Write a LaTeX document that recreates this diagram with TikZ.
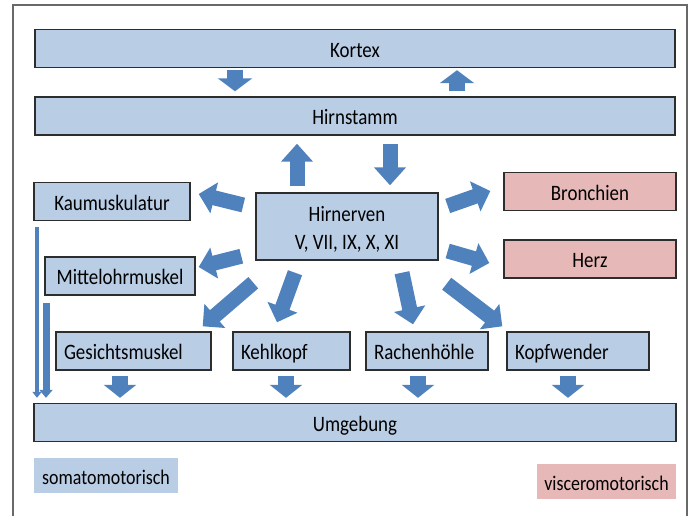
\documentclass[tikz,border=0pt]{standalone}
\usepackage{fontspec}
\setmainfont{Carlito}[FakeStretch=0.86]
\usetikzlibrary{arrows.meta,positioning,calc}
\definecolor{somaBlue}{RGB}{185,205,229}
\definecolor{visceroRed}{RGB}{230,185,184}
\definecolor{arrowBlue}{RGB}{79,129,189}
\definecolor{boxLine}{RGB}{45,45,45}
\definecolor{frameGray}{RGB}{105,105,105}

\begin{document}
\begin{tikzpicture}[x=0.5pt, y=-0.5pt, every node/.style={font=\fontsize{11}{14}\selectfont},
    base/.style={draw=boxLine, line width=0.7pt, fill=somaBlue, inner sep=0pt},
    box/.style={base, minimum height=19pt, text height=8.6pt, text depth=0pt},
    vbox/.style={box, fill=visceroRed},
    leftbox/.style={box, align=left, inner xsep=4pt, text width=#1},
    legend/.style={draw=none, font=\fontsize{10.4}{12}\selectfont, minimum height=17.5pt},
    fat/.style={arrowBlue, line width=7.5pt, -{Triangle[length=8pt, width=15.5pt]}},
    smallarrow/.style={arrowBlue, line width=8pt, -{Triangle[length=6.5pt, width=17pt]}}]
    \useasboundingbox (0,0) rectangle (691,516);
    % frame, open at the bottom
    \draw[frameGray, line width=0.8pt] (13,516) -- (13,5) -- (687,5) -- (687,516);

    \node[box, minimum width=320pt] (kortex) at (355,48.5) {Kortex};
    \node[box, minimum width=320pt] (hirnstamm) at (355,116) {Hirnstamm};
    \node[base, minimum width=91pt, minimum height=33.5pt, align=center] (nerven) at (347,226.5) {\rule{0pt}{10pt}Hirnerven\\V, VII, IX, X, XI};
    \node[box, minimum width=78pt] (kau) at (112,201.5) {Kaumuskulatur};
    \node[box, minimum width=75pt] (mittel) at (120,276) {Mittelohrmuskel};
    \node[vbox, minimum width=86pt] (bronchien) at (590,191.5) {Bronchien};
    \node[vbox, minimum width=86pt] (herz) at (590,259) {Herz};
    \node[leftbox=69.5pt] (gesicht) at (133.5,351) {Gesichtsmuskel};
    \node[leftbox=50.5pt] (kehlkopf) at (291.5,351) {Kehlkopf};
    \node[leftbox=53pt] (rachen) at (427,351) {Rachenhöhle};
    \node[leftbox=63pt] (kopfwender) at (578,351) {Kopfwender};
    \node[box, minimum width=321pt] (umgebung) at (355,422.5) {Umgebung};
    % legend
    \node[box, legend, minimum width=72pt] (soma) at (106,475.5) {somatomotorisch};
    \node[vbox, legend, minimum width=69.5pt] (viscero) at (606.5,481.5) {visceromotorisch};

    % Kortex <-> Hirnstamm
    \draw[smallarrow, shorten <=1pt, shorten >=2.5pt] (235,0 |- kortex.south) -- (235,0 |- hirnstamm.north);
    \draw[smallarrow, shorten <=2.5pt, shorten >=1pt] (457,0 |- hirnstamm.north) -- (457,0 |- kortex.south);
    % Hirnstamm <-> Hirnerven
    \draw[fat, -{Triangle[length=9pt, width=15.5pt]}, shorten <=3pt, shorten >=4pt] (297,0 |- nerven.north) -- (297,0 |- hirnstamm.south);
    \draw[fat, -{Triangle[length=9pt, width=15.5pt]}, shorten <=4pt, shorten >=3.5pt] (390,0 |- hirnstamm.south) -- (390,0 |- nerven.north);
    % out of the Hirnerven
    \draw[fat] ([shift={(-12,-21.5)}]nerven.west) -- ([shift={(8,-7.5)}]kau.east);
    \draw[fat] ([shift={(-14,-4.5)}]nerven.south west) -- ([shift={(3,-9)}]mittel.east);
    \draw[fat] ([shift={(-2,22)}]nerven.south west) -- ([shift={(-9,-5)}]gesicht.north east);
    \draw[fat] ([shift={(-52,12)}]nerven.south) -- ([shift={(-14.5,-9)}]kehlkopf.north);
    \draw[fat] ([shift={(55,12)}]nerven.south) -- ([shift={(-14,-7)}]rachen.north);
    \draw[fat] ([shift={(8,23)}]nerven.south east) -- ([shift={(-4,-5)}]kopfwender.north west);
    \draw[fat] ([shift={(9,-20.5)}]nerven.east) -- ([shift={(-13,-0.5)}]bronchien.west);
    \draw[fat] ([shift={(9,24.5)}]nerven.east) -- ([shift={(-14,4)}]herz.west);
    % down to the Umgebung
    \foreach \x/\n in {120/gesicht, 286/kehlkopf, 418/rachen, 568/kopfwender}{
      \draw[smallarrow, -{Triangle[length=6.5pt, width=16pt]}, shorten <=2.5pt, shorten >=2.5pt] (\x,0 |- \n.south) -- (\x,0 |- umgebung.north);}
    \draw[arrowBlue, line width=1.8pt, -{Triangle[length=3pt, width=4.5pt]}, shorten <=3pt, shorten >=2.5pt] (37,0 |- kau.south) -- (37,0 |- umgebung.north);
    \draw[arrowBlue, line width=3.5pt, -{Triangle[length=4pt, width=6.5pt]}, shorten <=3.5pt, shorten >=2.5pt] (46,0 |- mittel.south) -- (46,0 |- umgebung.north);
  \end{tikzpicture}
\end{document}
